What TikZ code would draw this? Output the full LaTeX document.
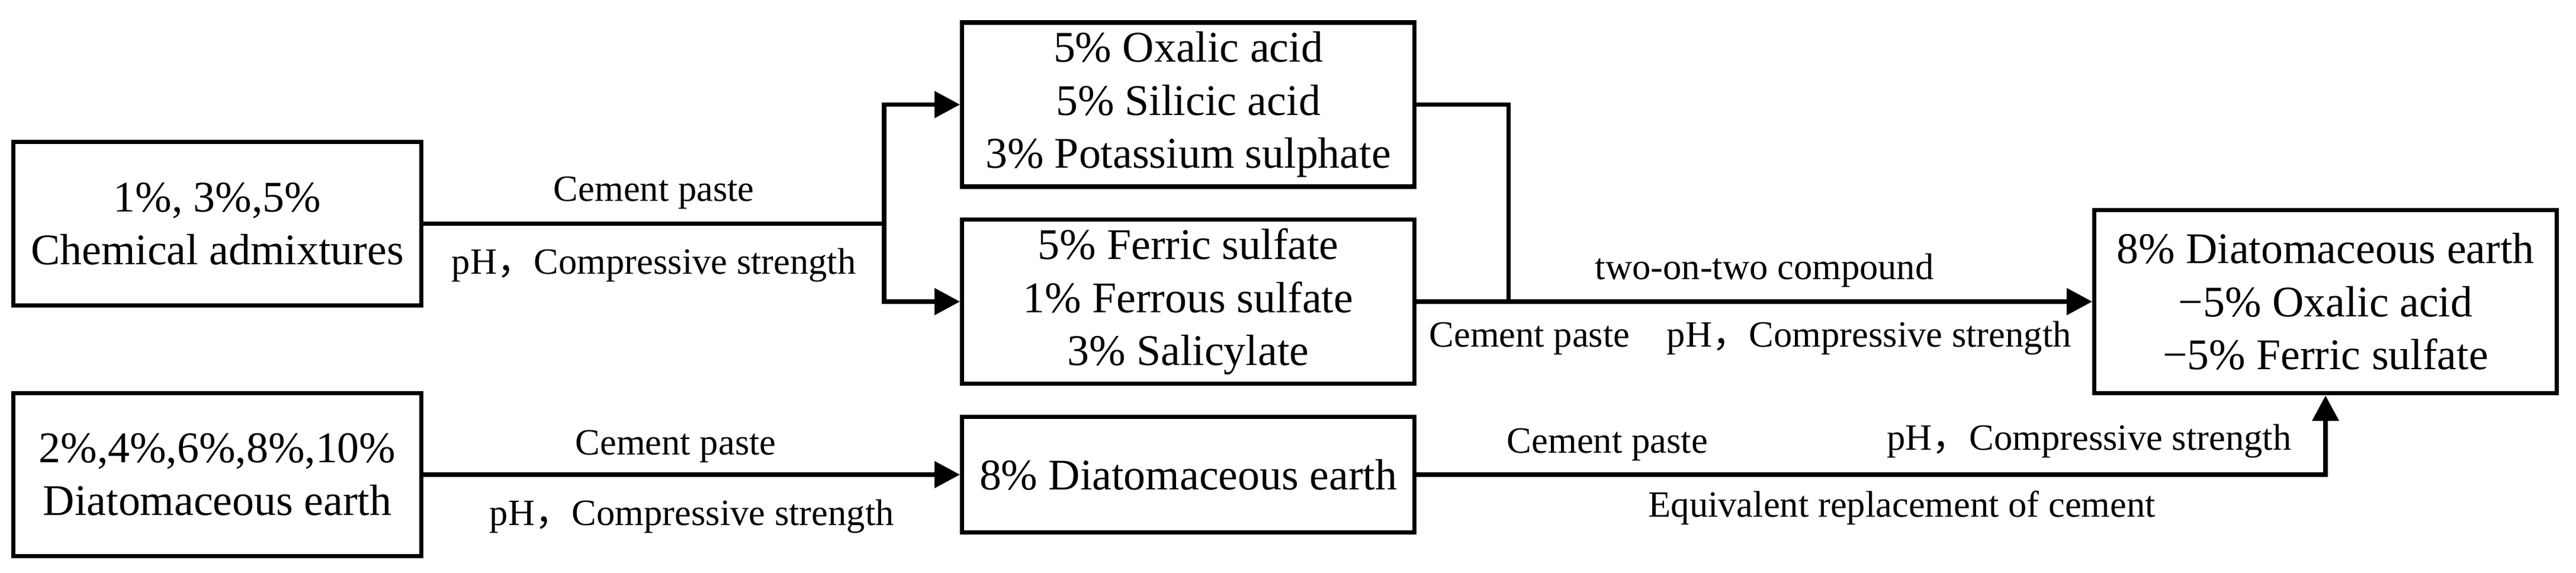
\documentclass[tikz,border=0pt]{standalone}
\usepackage{fontspec}
\setmainfont{Liberation Serif}
\newfontfamily\cjk{Noto Sans CJK SC}
\usetikzlibrary{arrows.meta}
\newcommand{\fcomma}{{\cjk ，}}

\begin{document}
\begin{tikzpicture}[line width=2.1pt,
	stage/.style={draw, inner sep=0pt, align=center, font=\fontsize{21pt}{25.4pt}\selectfont},
	lbl/.style={inner sep=0pt, anchor=base, font=\fontsize{17.8pt}{21pt}\selectfont},
	arr/.style={-{Triangle[length=0.43cm,width=0.44cm]}}]
			\useasboundingbox (0,0) rectangle (43.5,9.67);
			\node[stage, minimum width=6.895cm, minimum height=2.755cm] (admix) at (3.67,5.895) {1\%, 3\%,5\%\\Chemical admixtures};
			\node[stage, minimum width=6.895cm, minimum height=2.755cm] (diat) at (3.67,1.66) {2\%,4\%,6\%,8\%,10\%\\Diatomaceous earth};
			\node[stage, minimum width=7.635cm, minimum height=2.77cm] (acids) at (20.065,7.905) {5\% Oxalic acid\\5\% Silicic acid\\3\% Potassium sulphate};
			\node[stage, minimum width=7.635cm, minimum height=2.77cm] (salts) at (20.065,4.58) {5\% Ferric sulfate\\1\% Ferrous sulfate\\3\% Salicylate};
			\node[stage, minimum width=7.635cm, minimum height=1.945cm] (best) at (20.065,1.66) {8\% Diatomaceous earth};
			\node[stage, minimum width=7.805cm, minimum height=3.095cm] (mix) at (39.27,4.58) {8\% Diatomaceous earth\\−5\% Oxalic acid\\−5\% Ferric sulfate};
			\coordinate (j1) at (14.93,0 |- admix.east);
			\coordinate (j2) at (25.476,0 |- acids.east);
			\coordinate (k) at (mix.south |- best.east);
			\draw (admix.east) -- node[lbl, yshift=0.38cm] {Cement paste} node[lbl, yshift=-0.85cm] {pH\fcomma Compressive strength} (j1);
			\draw[arr] (j1) |- (acids.west);
			\draw[arr] (j1) |- (salts.west);
			\draw (acids.east) -- (j2) -- (j2 |- salts.east);
			\draw[arr] (salts.east) -- node[lbl, pos=0.515, yshift=0.37cm] {two-on-two compound} node[lbl, pos=0.494, yshift=-0.77cm] {Cement paste\quad pH\fcomma Compressive strength} (mix.west);
			\draw[arr] (diat.east) -- node[lbl, pos=0.47, yshift=0.33cm] {Cement paste} node[lbl, yshift=-0.86cm] {pH\fcomma Compressive strength} (best.west);
			\draw[arr] (best.east) -- node[lbl, pos=0.21, yshift=0.36cm] {Cement paste} node[lbl, pos=0.534, yshift=-0.72cm] {Equivalent replacement of cement} node[lbl, pos=0.74, yshift=0.41cm] {pH\fcomma Compressive strength} (k) -- (mix.south);
		\end{tikzpicture}
\end{document}
